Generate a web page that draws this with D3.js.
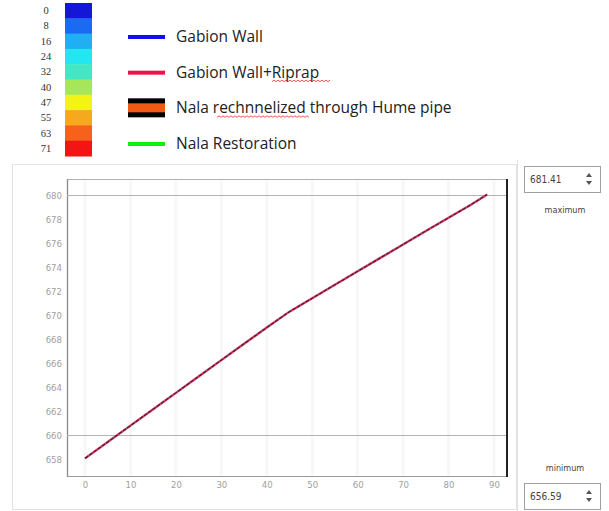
<!DOCTYPE html>
<html><head><meta charset="utf-8">
<script src="https://cdn.jsdelivr.net/npm/d3@7"></script>
<style>body{margin:0;background:#fff;}svg{display:block;font-family:"Open Sans","Noto Sans",sans-serif;}</style>
</head><body><svg id="c" width="609" height="511"></svg>
<script>
// ---- data ----
const colorLabels = ["0","8","16","24","32","40","47","55","63","71"];
const colorBands = ["#1416d8","#1a6af2","#22aef2","#22e6f0","#44e6c4","#a6e65a","#f4f414","#f6a81e","#f6621c","#f41414"];
const legendNames = ["Gabion Wall","Gabion Wall+Riprap","Nala rechnnelized through Hume pipe","Nala Restoration"];
const legendColors = ["#1010f0","#f0104a","#f05a14","#10f010"];
const xVals = [0,5,10,15,20,25,30,35,40,45,50,55,60,65,70,75,80,85,88.5];
const yVals = [658.05,659.42,660.78,662.15,663.51,664.88,666.24,667.6,668.95,670.28,671.4,672.52,673.64,674.76,675.88,677.0,678.1,679.2,680.05];
const xTicks = [0,10,20,30,40,50,60,70,80,90];
const yTicks = [658,660,662,664,666,668,670,672,674,676,678,680];
const refLines = [680,660];
const maxVal = "681.41", minVal = "656.59";

const svg = d3.select("#c");

// ---- color bar ----
const cb = d3.scaleBand().domain(colorLabels).range([3,156]);
svg.selectAll("rect.cb").data(colorLabels).join("rect")
  .attr("x",65).attr("width",27).attr("y",d=>cb(d)).attr("height",cb.bandwidth()+0.5)
  .attr("fill",(d,i)=>colorBands[i]);
svg.selectAll("text.cb").data(colorLabels).join("text")
  .attr("x",46).attr("y",d=>cb(d)+cb.bandwidth()/2+3.5).attr("text-anchor","middle")
  .attr("font-size",10.5).attr("fill","#333").attr("font-family","Liberation Serif, serif").text(d=>d);

// ---- legend ----
const ly = d3.scalePoint().domain(legendNames).range([37,144]);
legendNames.forEach((n,i)=>{
  const y = ly(n);
  if(i===2){
    svg.append("rect").attr("x",128).attr("y",y-10).attr("width",37).attr("height",19).attr("fill","#000");
    svg.append("rect").attr("x",128).attr("y",y-5).attr("width",37).attr("height",9).attr("fill",legendColors[i]);
  } else {
    svg.append("rect").attr("x",128).attr("y",y-2).attr("width",37).attr("height",4).attr("fill",legendColors[i]);
  }
  svg.append("text").attr("x",176).attr("y",y+5).attr("font-size",15.5).attr("fill","#222").text(n);
});
// spell-check squiggles
function squiggle(x0,x1,y){
  let d="M"+x0+","+y; let up=true;
  for(let x=x0+2;x<=x1;x+=2){d+="L"+x+","+(up?y-1.5:y);up=!up;}
  svg.append("path").attr("d",d).attr("fill","none").attr("stroke","#e03030").attr("stroke-width",0.8);
}
squiggle(272,331,ly(legendNames[1])+9);
squiggle(217,310,ly(legendNames[2])+9);

// ---- panel ----
svg.append("rect").attr("x",12.5).attr("y",164.5).attr("width",504).attr("height",345).attr("fill","none").attr("stroke","#e2e2e2");
svg.append("line").attr("x1",517.5).attr("x2",517.5).attr("y1",160).attr("y2",511).attr("stroke","#e0e0e0");

const L=67,R=506,T=179,B=476;
const x = d3.scaleLinear().domain([0,90]).range([85,494]);
const y = d3.scaleLinear().domain([658,680]).range([459,195]);

// faint vertical grid
svg.append("g").selectAll("line").data(xTicks).join("line")
  .attr("x1",d=>x(d)).attr("x2",d=>x(d)).attr("y1",T).attr("y2",B).attr("stroke","#f7f7f7").attr("stroke-width",3);

// frame
svg.append("line").attr("x1",L).attr("x2",R).attr("y1",T+0.5).attr("y2",T+0.5).attr("stroke","#b0b0b0");
svg.append("line").attr("x1",L).attr("x2",R).attr("y1",B+0.5).attr("y2",B+0.5).attr("stroke","#9a9a9a");
svg.append("line").attr("x1",L+0.5).attr("x2",L+0.5).attr("y1",T).attr("y2",B+1).attr("stroke","#8a8a8a").attr("stroke-width",1.3);
svg.append("line").attr("x1",R+1).attr("x2",R+1).attr("y1",T).attr("y2",B+1).attr("stroke","#222").attr("stroke-width",2);

// reference lines
svg.selectAll("line.ref").data(refLines).join("line")
  .attr("x1",L).attr("x2",R).attr("y1",d=>Math.round(y(d))+0.5).attr("y2",d=>Math.round(y(d))+0.5)
  .attr("stroke","#b4b4b4");

// axes
const yAxis = d3.axisLeft(y).tickValues(yTicks).tickSize(0).tickPadding(5);
const gy = svg.append("g").attr("transform",`translate(${L},0)`).call(yAxis);
gy.select(".domain").remove();
gy.selectAll("text").attr("font-size",9.5).attr("fill","#a0a0a0").attr("font-family","DejaVu Sans Condensed, sans-serif");
const xAxis = d3.axisBottom(x).tickValues(xTicks).tickSize(0).tickPadding(5);
const gx = svg.append("g").attr("transform",`translate(0,${B})`).call(xAxis);
gx.select(".domain").remove();
gx.selectAll("text").attr("font-size",9.5).attr("fill","#a0a0a0").attr("font-family","DejaVu Sans Condensed, sans-serif");

// series line
const pts = xVals.map((v,i)=>[v,yVals[i]]);
const line = d3.line().x(d=>x(d[0])).y(d=>y(d[1]));
svg.append("path").datum(pts).attr("d",line).attr("fill","none").attr("stroke","#e0406a").attr("stroke-width",2.4);
svg.append("path").datum(pts).attr("d",line).attr("fill","none").attr("stroke","#4a2030").attr("stroke-width",1.2).attr("stroke-dasharray","4,1.2");

// ---- spinboxes ----
function spin(yTop,val){
  svg.append("rect").attr("x",524.5).attr("y",yTop+0.5).attr("width",76).attr("height",26).attr("fill","#fff").attr("stroke","#a0a0a0");
  svg.append("text").attr("x",530).attr("y",yTop+17).attr("font-size",10).attr("fill","#444").attr("font-family","DejaVu Sans Condensed, sans-serif").text(val);
  svg.append("path").attr("d",`M${586},${yTop+11}L${589},${yTop+7}L${592},${yTop+11}Z`).attr("fill","#555");
  svg.append("path").attr("d",`M${586},${yTop+15}L${589},${yTop+19}L${592},${yTop+15}Z`).attr("fill","#555");
}
spin(166,maxVal);
spin(483,minVal);
svg.append("text").attr("x",565).attr("y",213).attr("text-anchor","middle").attr("font-size",9).attr("fill","#444").attr("font-family","DejaVu Sans Condensed, sans-serif").text("maximum");
svg.append("text").attr("x",565).attr("y",471).attr("text-anchor","middle").attr("font-size",9).attr("fill","#444").attr("font-family","DejaVu Sans Condensed, sans-serif").text("minimum");
</script></body></html>
